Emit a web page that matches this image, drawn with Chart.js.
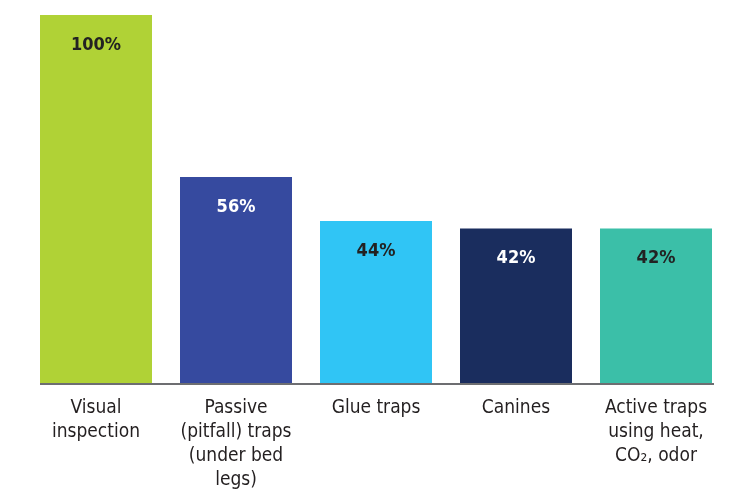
<!DOCTYPE html>
<html>
<head>
<meta charset="utf-8">
<script src="https://cdn.jsdelivr.net/npm/chart.js@4"></script>
<style>
  html, body { margin: 0; padding: 0; background: #fff; }
  #wrap { width: 753px; height: 500px; }
</style>
</head>
<body>
<div id="wrap"><canvas id="grafico"></canvas></div>
<script>
// datos del grafico
const categorias = [
  ['Visual', 'inspection'],
  ['Passive', '(pitfall) traps', '(under bed', 'legs)'],
  ['Glue traps'],
  ['Canines'],
  ['Active traps', 'using heat,', 'CO\u2082, odor']
];
const valores = [100, 56, 44, 42, 42];
const colores = ['#b0d236', '#364a9f', '#30c5f5', '#1a2d5e', '#3bbfa8'];
const coloresTexto = ['#222222', '#ffffff', '#222222', '#ffffff', '#222222'];

const fuente = '"DejaVu Sans Condensed", "Roboto", sans-serif';

// etiquetas de valor dentro de cada barra
const etiquetasValor = {
  id: 'etiquetasValor',
  afterDatasetsDraw(chart) {
    const ctx = chart.ctx;
    const meta = chart.getDatasetMeta(0);
    ctx.save();
    ctx.font = 'bold 18px ' + fuente;
    ctx.textAlign = 'center';
    ctx.textBaseline = 'middle';
    meta.data.forEach((bar, i) => {
      ctx.fillStyle = coloresTexto[i];
      ctx.fillText(valores[i] + '%', bar.x, bar.y + 30);
    });
    ctx.restore();
  }
};

// linea base desde la primera hasta la ultima barra
const lineaBase = {
  id: 'lineaBase',
  afterDatasetsDraw(chart) {
    const ctx = chart.ctx;
    const meta = chart.getDatasetMeta(0);
    const primera = meta.data[0];
    const ultima = meta.data[meta.data.length - 1];
    const y = chart.scales.y.getPixelForValue(0);
    ctx.save();
    ctx.strokeStyle = '#6d6e71';
    ctx.lineWidth = 2;
    ctx.beginPath();
    ctx.moveTo(primera.x - primera.width / 2, y + 1);
    ctx.lineTo(ultima.x + ultima.width / 2 + 2, y + 1);
    ctx.stroke();
    ctx.restore();
  }
};

new Chart(document.getElementById('grafico'), {
  type: 'bar',
  data: {
    labels: categorias,
    datasets: [{
      data: valores,
      backgroundColor: colores,
      barPercentage: 0.8,
      categoryPercentage: 1.0
    }]
  },
  options: {
    responsive: true,
    maintainAspectRatio: false,
    animation: false,
    layout: { padding: { top: 15, left: 26, right: 27, bottom: 0 } },
    plugins: { legend: { display: false }, tooltip: { enabled: false } },
    scales: {
      x: {
        grid: { display: false, drawTicks: false },
        border: { display: false },
        afterFit: (scale) => { scale.height = 117; },
        ticks: {
          color: '#231f20',
          padding: 13,
          maxRotation: 0,
          autoSkip: false,
          font: { family: fuente, size: 19, lineHeight: 1.26 }
        }
      },
      y: {
        display: false,
        min: 0,
        max: 100
      }
    }
  },
  plugins: [etiquetasValor, lineaBase]
});
</script>
</body>
</html>
